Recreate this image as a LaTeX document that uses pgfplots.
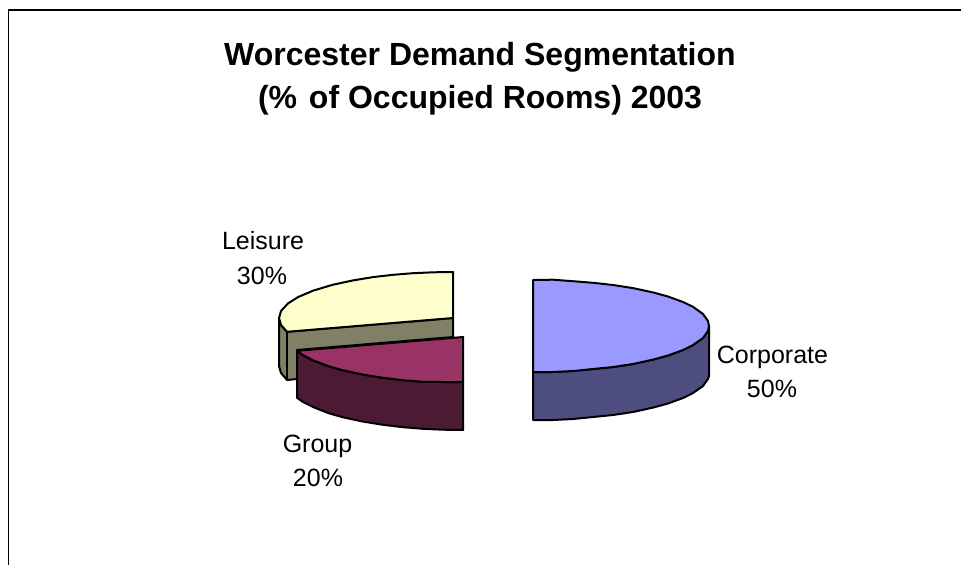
\documentclass[border=0pt]{standalone}
\usepackage{pgfplots}
\pgfplotsset{compat=1.18}
\usepackage{fontspec}
\setmainfont{Liberation Sans}
\definecolor{corpT}{HTML}{9999FF}
\definecolor{corpS}{HTML}{4D4D80}
\definecolor{leisT}{HTML}{FFFFCC}
\definecolor{leisS}{HTML}{808066}
\definecolor{grpT}{HTML}{993366}
\definecolor{grpS}{HTML}{4D1A33}
\begin{document}
\begin{tikzpicture}
\useasboundingbox (0,0) rectangle (961pt,565pt);
\begin{axis}[
  at={(0,0)}, anchor=south west,
  scale only axis, width=961pt, height=565pt,
  xmin=0, xmax=961, ymin=0, ymax=565, y dir=reverse,
  hide axis, clip=true,
  every axis plot/.append style={line width=2pt, line join=round, no markers},
]
% frame
\addplot[black, line width=1.6pt] coordinates {(961,10) (8.5,10) (8.5,565)};
% Leisure sides
\addplot[draw=black, fill=leisS] coordinates {(279,318)(279,366)(281,373)(287,380)(297,379)(297,350)(453,337)(453,318)(287,331.8)(281,325)} --cycle;
\addplot[black] coordinates {(287,331)(287,380)};
% Leisure top
\addplot[draw=black, fill=leisT] coordinates {(453,272)(433,272.3)(413,273.2)(393,274.8)(373,277.1)(353,280.4)(333,284.7)(313,290.7)(298,297.1)(288,303.4)(281,311)(279,318)(281,325)(287,331.8)(453,318)} --cycle;
% Group side
\addplot[draw=black, fill=grpS] coordinates {(297,350.8)(303,355.1)(313,360.3)(328,366)(343,370.3)(363,374.6)(383,377.8)(403,380.2)(423,381.8)(443,382)(463,382)(463,430)(443,429.7)(423,428.8)(403,427.2)(383,424.8)(363,421.6)(343,417.3)(328,413)(313,407)(303,402)(297,397.8)} --cycle;
% Group top
\addplot[draw=black, fill=grpT] coordinates {(463,337)(297,350.8)(303,355.1)(313,360.3)(328,366)(343,370.3)(363,374.6)(383,377.8)(403,380.2)(423,381.8)(443,382)(463,382)} --cycle;
% Corporate side
\addplot[draw=black, fill=corpS] coordinates {(533,372)(553,372)(573,371)(593,369)(613,367)(633,364)(653,359.6)(668,355.5)(683,350)(693,345)(703,338)(708,331)(709,326)(709,376)(708,379)(703,386)(693,393)(683,398)(668,403.5)(653,407.6)(633,412)(613,415)(593,417)(573,419)(553,420)(533,420)} --cycle;
% Corporate top
\addplot[draw=black, fill=corpT] coordinates {(533,280)(553,279.7)(573,281.2)(593,282.8)(613,285)(633,288.1)(653,292.4)(668,296.5)(683,302)(693,306.8)(703,314)(708,321)(709,326)(708,331)(703,338)(693,345)(683,350)(668,355.5)(653,359.6)(633,364)(613,367)(593,369)(573,371)(553,372)(533,372)} --cycle;
% text
\node[anchor=base, font=\fontsize{32}{34}\selectfont\bfseries] at (axis cs:480,65) {Worcester Demand Segmentation};
\node[anchor=base, font=\fontsize{32}{34}\selectfont\bfseries] at (axis cs:480,108) {(\%\kern3pt{} of Occupied Rooms) 2003};
\node[anchor=base, font=\fontsize{25}{27}\selectfont] at (axis cs:263,249) {Leisure};
\node[anchor=base, font=\fontsize{25}{27}\selectfont] at (axis cs:262,284) {30\%};
\node[anchor=base, font=\fontsize{25}{27}\selectfont] at (axis cs:772.5,363) {Corporate};
\node[anchor=base, font=\fontsize{25}{27}\selectfont] at (axis cs:772,397) {50\%};
\node[anchor=base, font=\fontsize{25}{27}\selectfont] at (axis cs:317.5,452) {Group};
\node[anchor=base, font=\fontsize{25}{27}\selectfont] at (axis cs:318,486) {20\%};
\end{axis}
\end{tikzpicture}
\end{document}
